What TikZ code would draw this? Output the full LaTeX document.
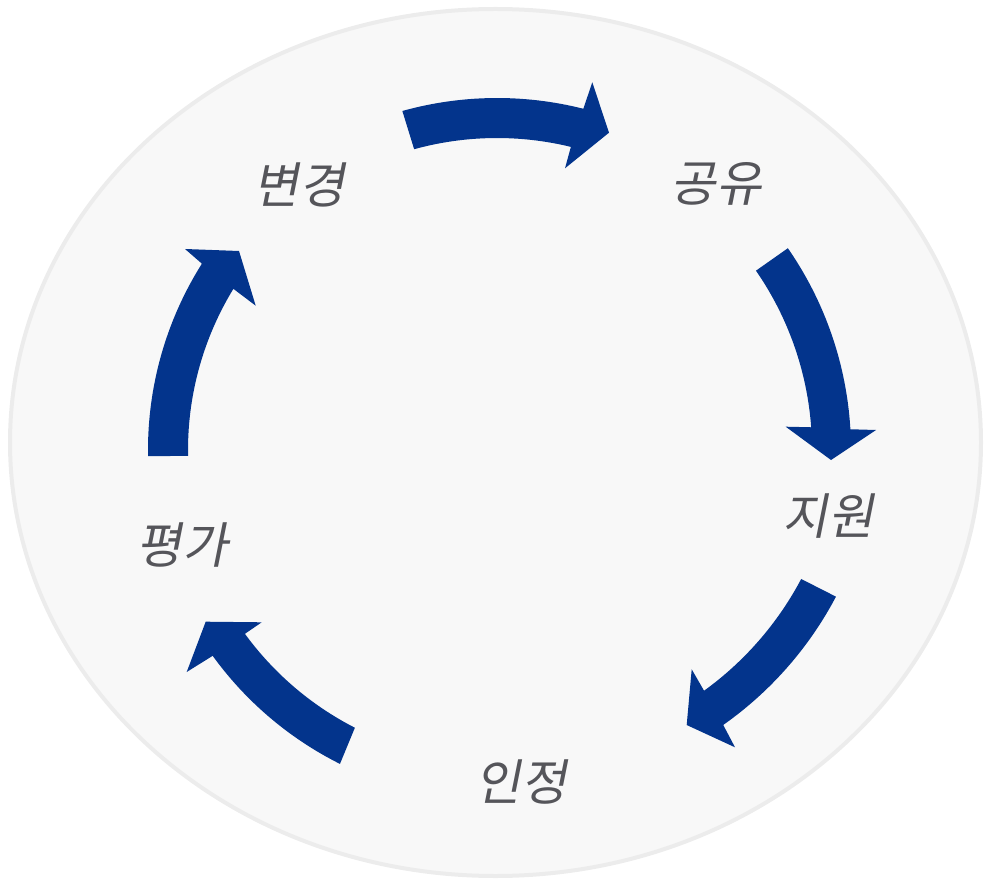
\documentclass[tikz,border=0pt]{standalone}
\usepackage{fontspec}
\newfontfamily\krfont[FakeSlant=0.2]{Noto Sans CJK KR}
\definecolor{arrowblue}{RGB}{3,52,140}
\definecolor{bgfill}{RGB}{248,248,248}
\definecolor{bgline}{RGB}{236,236,236}
\definecolor{labelgray}{RGB}{85,85,90}
\begin{document}
\begin{tikzpicture}[x=0.75pt,y=-0.75pt,
  cyclearrow/.style={fill=arrowblue},
  steplabel/.style={text=labelgray,font=\krfont\fontsize{37}{44}\selectfont,inner sep=0pt}]
\useasboundingbox (0,0) rectangle (985,880);
% background ellipse
\draw[bgline,line width=3pt,fill=bgfill] (495.5,442.5) ellipse [x radius=485.5, y radius=433.5];
\coordinate (c0) at (497,450);
\coordinate (c3) at (513,426.6);
% arrow 1 (top)
\fill[cyclearrow] ([shift={(-105.6:352)}]c0) arc[start angle=-105.6, end angle=-75.8, radius=352]
  -- (592.3,82.3) -- (609,132.7) -- (565,168.3)
  -- ([shift={(-76.3:312)}]c0) arc[start angle=-76.3, end angle=-105.4, radius=312] -- cycle;
% arrow 2 (right)
\fill[cyclearrow] ([shift={(-34.75:354)}]c0) arc[start angle=-34.75, end angle=-3.36, radius=354]
  -- (876,430) -- (831,460) -- (785.7,426.7)
  -- ([shift={(-4.14:315)}]c0) arc[start angle=-4.14, end angle=-34.7, radius=315] -- cycle;
% arrow 3 (lower right)
\fill[cyclearrow] ([shift={(27.77:365)}]c3) arc[start angle=27.77, end angle=54.83, radius=365]
  -- (735,747.3) -- (686.7,725) -- (691.7,669.3)
  -- ([shift={(54.12:326)}]c3) arc[start angle=54.12, end angle=27.87, radius=326] -- cycle;
% arrow 4 (lower left)
\fill[cyclearrow] ([shift={(116.58:351)}]c0) arc[start angle=116.58, end angle=144.1, radius=351]
  -- (186.7,672) -- (205.7,621.7) -- (261.7,622.3)
  -- ([shift={(143.9:312)}]c0) arc[start angle=143.9, end angle=117.1, radius=312] -- cycle;
% arrow 5 (left)
\fill[cyclearrow] ([shift={(179.0:349)}]c0) arc[start angle=179.0, end angle=212.27, radius=349]
  -- (185,249) -- (239,251) -- (255.7,305.7)
  -- ([shift={(211.44:309)}]c0) arc[start angle=211.44, end angle=178.9, radius=309] -- cycle;
% labels
\node[steplabel] (change) at (299,185) {변경};
\node[steplabel] (share) at (716,184) {공유};
\node[steplabel] (support) at (828,516) {지원};
\node[steplabel] (recog) at (521,782) {인정};
\node[steplabel] (eval) at (182,545) {평가};
\end{tikzpicture}
\end{document}
